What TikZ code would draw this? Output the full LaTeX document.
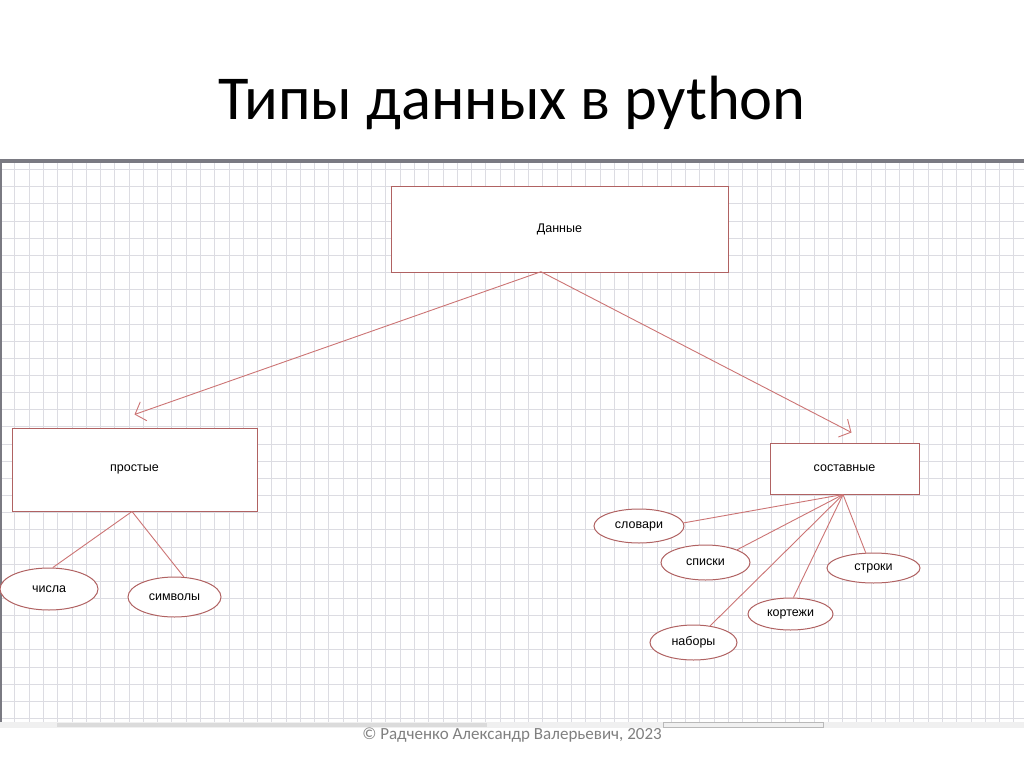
\documentclass[tikz,border=0pt]{standalone}
\usepackage{fontspec}
\setmainfont{Carlito}
\newfontfamily\arialf{Liberation Sans}
\usetikzlibrary{shapes.geometric,arrows.meta}
\definecolor{shapecol}{HTML}{B06262}
\definecolor{linecol}{HTML}{CC7474}
\definecolor{gridcol}{HTML}{DCDCE2}
\definecolor{framecol}{HTML}{7A7A82}
\begin{document}
\begin{tikzpicture}[x=1pt,y=-1pt,
  box/.style={draw=shapecol,line width=1pt,fill=white,inner sep=0pt,
    font=\arialf\fontsize{12.5}{14}\selectfont},
  oval/.style={ellipse,draw=shapecol,line width=1pt,fill=white,inner sep=0pt,
    font=\arialf\fontsize{12.5}{14}\selectfont},
  link/.style={draw=linecol,line width=0.9pt},
  arr/.style={link,-{Straight Barb[length=9pt,width=20pt,line width=0.9pt]}}]
\useasboundingbox (0,0) rectangle (1024,767);
\fill[white] (0,0) rectangle (1024,767);
% grid
\foreach \i in {0,...,71} \draw[gridcol,line width=0.6pt] ({0.5+14.27*\i},163) -- ({0.5+14.27*\i},722);
\foreach \j in {0,...,32} \draw[gridcol,line width=0.6pt] (0,{169.5+17.15*\j}) -- (1024,{169.5+17.15*\j});
% frame
\fill[framecol] (0,159) rectangle (1024,163.5);
\fill[framecol] (0,159) rectangle (2,722);
\fill[gray!12] (0,722) rectangle (1024,728);
\fill[gray!28] (57,723) rectangle (487,727);
\draw[gray!55,line width=0.5pt] (663,722.5) rectangle (823,727.5);
% title and footer
\node[font=\fontsize{62.5}{70}\selectfont,anchor=base] (title) at (512,120) {Типы данных в python};
\node[font=\fontsize{17}{19}\selectfont,text=gray,anchor=base] (foot) at (512,739) {© Радченко Александр Валерьевич, 2023};
% boxes
\node[box,minimum width=337pt,minimum height=85pt] (d) at (559.5,229.5) {Данные};
\node[box,minimum width=245pt,minimum height=83pt] (p) at (134.5,469.5) {простые};
\node[box,minimum width=149pt,minimum height=51pt] (s) at (844.5,468.5) {составные};
% ellipses
\node[oval,minimum width=98pt,minimum height=42pt] (ch) at (49,589) {числа};
\node[oval,minimum width=93pt,minimum height=40pt] (sy) at (174.5,597) {символы};
\node[oval,minimum width=90pt,minimum height=34pt] (sl) at (639,526) {словари};
\node[oval,minimum width=89pt,minimum height=35pt] (sp) at (705.5,562.5) {списки};
\node[oval,minimum width=93pt,minimum height=30pt] (st) at (873.5,568) {строки};
\node[oval,minimum width=85pt,minimum height=32pt] (ko) at (790.5,614) {кортежи};
\node[oval,minimum width=87pt,minimum height=35pt] (nb) at (693.5,642.5) {наборы};
% connectors
\coordinate (dv) at (541,271.7);
\draw[arr] (dv) -- ([yshift=13pt]p.north);
\draw[arr] (dv) -- ([xshift=7pt,yshift=10pt]s.north);
\draw[link] ([xshift=-2.5pt]p.south) -- (ch.80);
\draw[link] ([xshift=-2.5pt]p.south) -- (sy.65);
\draw[link] ([xshift=-1.5pt]s.south) -- (sl.4);
\draw[link] ([xshift=-1.5pt]s.south) -- (sp.22);
\draw[link] ([xshift=-1.5pt]s.south) -- (st.117);
\draw[link] ([xshift=-1.5pt]s.south) -- (ko.80);
\draw[link] ([xshift=-1.5pt]s.south) -- (nb.45);
\end{tikzpicture}
\end{document}
